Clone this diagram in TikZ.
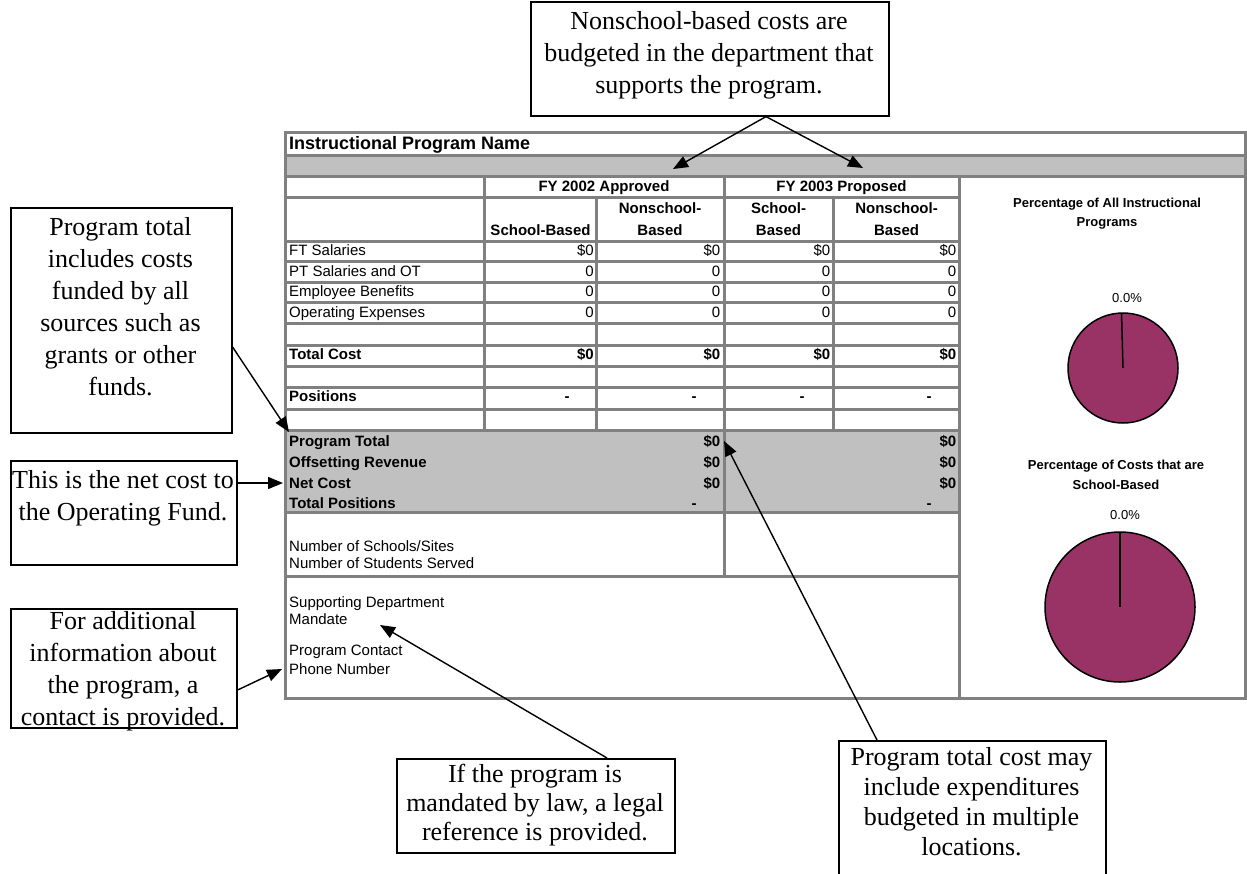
\documentclass[tikz,border=0pt]{standalone}
\usepackage{fontspec}
\setmainfont{Liberation Serif}
\newfontfamily\arial{Liberation Sans}
\usetikzlibrary{arrows.meta,calc}
\definecolor{gridgray}{HTML}{808080}
\definecolor{bandgray}{HTML}{C0C0C0}
\definecolor{plum}{HTML}{993366}
\begin{document}
\begin{tikzpicture}[x=1pt,y=-1pt,
 gline/.style={draw=gridgray,line width=3pt},
 tx/.style={font=\arial\fontsize{15}{18}\selectfont,inner sep=0pt,yshift=-2pt},
 txb/.style={font=\arial\bfseries\fontsize{15}{18}\selectfont,inner sep=0pt,yshift=-2pt},
 lbl/.style={tx,anchor=mid west},
 lblb/.style={txb,anchor=mid west},
 val/.style={tx,anchor=mid east},
 valb/.style={txb,anchor=mid east},
 dsh/.style={txb,anchor=mid},
 hdr/.style={txb,anchor=mid},
 ct/.style={font=\arial\fontsize{13}{16}\selectfont,inner sep=0pt,anchor=mid},
 ctb/.style={font=\arial\bfseries\fontsize{13}{19.5}\selectfont,inner sep=0pt,align=center},
 callout/.style={draw=black,line width=1.6pt,fill=white,inner sep=0pt,anchor=north west},
 ctext/.style={font=\fontsize{26}{32}\selectfont,align=center,inner sep=0pt},
 arr/.style={draw=black,line width=1.4pt,-{Triangle[length=15pt,width=12pt]}},
 pie/.style={fill=plum,draw=black,line width=1.5pt}]
\clip (0,0) rectangle (1247,873);
\fill[white] (0,0) rectangle (1247,873);

% ---------- table fills ----------
\fill[bandgray] (285.5,155) rectangle (1245,176.5);
\fill[bandgray] (285.5,430) rectangle (959.5,512);

% ---------- grid lines ----------
\foreach \yy in {155,176.5}{\draw[gline] (285.5,\yy) -- (1245,\yy);}
\foreach \yy in {197,241,261.5,282,302.5,323.5,345,366,387.5,409,430,512,576}{\draw[gline] (285.5,\yy) -- (959.5,\yy);}
\draw[gline] (484.5,176.5) -- (484.5,430);
\draw[gline] (596.5,197) -- (596.5,430);
\draw[gline] (724.5,176.5) -- (724.5,576);
\draw[gline] (833.5,197) -- (833.5,430);
\draw[gline] (959.5,176.5) -- (959.5,698);
\draw[gline] (285.5,132) rectangle (1245,698);

% ---------- table texts ----------
\node[txb,anchor=mid west,font=\arial\bfseries\fontsize{18}{20}\selectfont] (title) at (289,145) {Instructional Program Name};
\node[hdr] (fy02) at (604,187) {FY 2002 Approved};
\node[hdr] (fy03) at (841.5,187) {FY 2003 Proposed};
\node[hdr] (h2a) at (540.5,231) {School-Based};
\node[hdr] (h2b1) at (660,209) {Nonschool-};
\node[hdr] (h2b2) at (660,231) {Based};
\node[hdr] (h2c1) at (778.5,209) {School-};
\node[hdr] (h2c2) at (778.5,231) {Based};
\node[hdr] (h2d1) at (896.5,209) {Nonschool-};
\node[hdr] (h2d2) at (896.5,231) {Based};

\node[lbl] (r1) at (289,251) {FT Salaries};
\node[lbl] (r2) at (289,272) {PT Salaries and OT};
\node[lbl] (r3) at (289,292) {Employee Benefits};
\node[lbl] (r4) at (289,313) {Operating Expenses};
\node[lblb] (r5) at (289,355) {Total Cost};
\node[lblb] (r6) at (289,397.5) {Positions};

\foreach \xx/\nm in {594/a,720.5/b,830.5/c,956.5/d}{
  \node[val] (v1\nm) at (\xx,251) {\$0};
  \node[val] (v2\nm) at (\xx,272) {0};
  \node[val] (v3\nm) at (\xx,292) {0};
  \node[val] (v4\nm) at (\xx,313) {0};
  \node[valb] (v5\nm) at (\xx,355) {\$0};
}
\foreach \xx/\nm in {567/a,694/b,802/c,929/d}{
  \node[dsh] (v6\nm) at (\xx,397.5) {-};
}

\node[lblb] (g1) at (289,442) {Program Total};
\node[lblb] (g2) at (289,463) {Offsetting Revenue};
\node[lblb] (g3) at (289,484) {Net Cost};
\node[lblb] (g4) at (289,504) {Total Positions};
\foreach \xx/\nm in {720.5/a,956.5/b}{
  \node[valb] (gv1\nm) at (\xx,442) {\$0};
  \node[valb] (gv2\nm) at (\xx,463) {\$0};
  \node[valb] (gv3\nm) at (\xx,484) {\$0};
}
\node[dsh] (gv4a) at (694,504) {-};
\node[dsh] (gv4b) at (929,504) {-};

\node[lbl] (s1) at (289,547) {Number of Schools/Sites};
\node[lbl] (s2) at (289,564) {Number of Students Served};
\node[lbl] (m1) at (289,603) {Supporting Department};
\node[lbl] (m2) at (289,620) {Mandate};
\node[lbl] (m3) at (289,651) {Program Contact};
\node[lbl] (m4) at (289,670) {Phone Number};

% ---------- charts ----------
\node[ctb] (c1t) at (1107,213.5) {Percentage of All Instructional\\Programs};
\node[ct] (c1p) at (1127,300) {0.0\%};
\draw[pie] (1123,368) circle[radius=55pt];
\draw[black,line width=1.5pt] (1123,368) -- (1121.5,313);
\node[ctb] (c2t) at (1116,475) {Percentage of Costs that are\\School-Based};
\node[ct] (c2p) at (1125,517) {0.0\%};
\draw[pie] (1120,607) circle[radius=75pt];
\draw[black,line width=1.5pt] (1120,607) -- (1120,532);

% ---------- callouts ----------
\node[callout,minimum width=358pt,minimum height=114pt] (top) at (530,1) {};
\node[ctext] (topt) at (709,55) {Nonschool-based costs are\\budgeted in the department that\\supports the program.};
\node[callout,minimum width=221pt,minimum height=225pt] (b1) at (10,207) {};
\node[ctext] (b1t) at (120.5,307) {Program total\\includes costs\\funded by all\\sources such as\\grants or other\\funds.};
\node[callout,minimum width=226pt,minimum height=104pt] (b2) at (10,460) {};
\node[ctext] (b2t) at (123,498) {This is the net cost to\\the Operating Fund.};
\node[callout,minimum width=226pt,minimum height=119pt] (b3) at (10,608) {};
\node[ctext] (b3t) at (123,671) {For additional\\information about\\the program, a\\contact is provided.};
\node[callout,minimum width=278pt,minimum height=94pt] (bm) at (396,758) {};
\node[ctext,font=\fontsize{26}{29}\selectfont] (bmt) at (535,805) {If the program is\\mandated by law, a legal\\reference is provided.};
\node[callout,minimum width=267pt,minimum height=145pt] (bp) at (838,740) {};
\node[ctext,font=\fontsize{26}{30}\selectfont] (bpt) at (971.5,802) {Program total cost may\\include expenditures\\budgeted in multiple\\locations.};

% ---------- connectors ----------
\coordinate (topsrc) at ($(top.south west)+(236,0)$);
\coordinate (tipfy02) at (673,169);
\coordinate (tipfy03) at (863,168);
\draw[arr] (topsrc) -- (tipfy02);
\draw[arr] (topsrc) -- (tipfy03);
\coordinate (b1src) at ($(b1.north east)+(0,140)$);
\coordinate (tipprog) at (289,432);
\draw[arr] (b1src) -- (tipprog);
\coordinate (b2src) at ($(b2.north east)+(0,23)$);
\coordinate (tipnet) at (283,483);
\draw[arr] (b2src) -- (tipnet);
\coordinate (b3src) at ($(b3.north east)+(0,82)$);
\coordinate (tipcontact) at (282,669);
\draw[arr] (b3src) -- (tipcontact);
\coordinate (bmsrc) at ($(bm.north west)+(211,0)$);
\coordinate (tipmandate) at (380,625);
\draw[arr] (bmsrc) -- (tipmandate);
\coordinate (bpsrc) at ($(bp.north west)+(39,0)$);
\coordinate (tiptotal) at (724,441);
\draw[arr] (bpsrc) -- (tiptotal);
\end{tikzpicture}
\end{document}
